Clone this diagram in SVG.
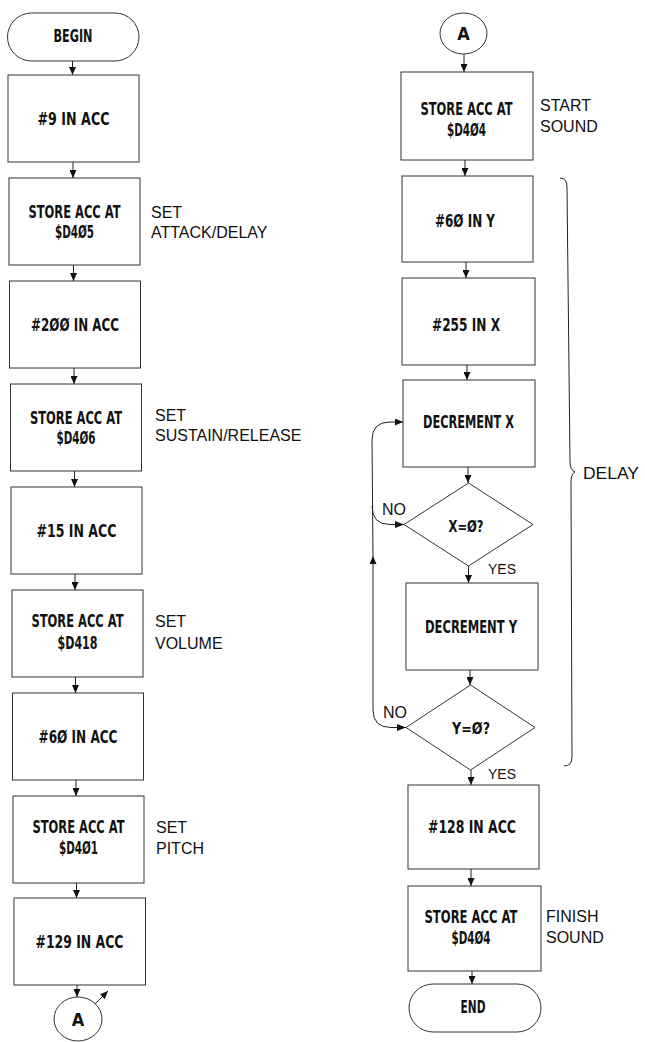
<svg xmlns="http://www.w3.org/2000/svg" width="645" height="1042" viewBox="0 0 645 1042">
<style>
.bg{fill:#fff}
.box{fill:#fff;stroke:#333;stroke-width:1}
.t{font-family:"Liberation Sans Narrow","DejaVu Sans Condensed","Liberation Sans",sans-serif;font-weight:bold;font-size:18px;text-anchor:middle;fill:#111}
.d{font-size:16px}
.l{font-family:"Liberation Sans",Arial,sans-serif;font-size:16px;fill:#111}
.s{font-size:14px}
.c{fill:none;stroke:#222;stroke-width:1}
.ce{fill:none;stroke:#222;stroke-width:1;marker-end:url(#ah)}
</style>
<defs>
<marker id="ah" markerUnits="userSpaceOnUse" markerWidth="8" markerHeight="7" viewBox="0 0 8 7" refX="8" refY="3.5" orient="auto"><path d="M0,0 L8,3.5 L0,7 z" fill="#111"/></marker>
<marker id="as" markerUnits="userSpaceOnUse" markerWidth="9" markerHeight="7" viewBox="0 0 9 7" refX="0" refY="3.5" orient="auto"><path d="M9,0 L0,3.5 L9,7 z" fill="#111"/></marker>
</defs>
<rect class="bg" x="0" y="0" width="645" height="1042"/>

<g id="connectors">
<path class="ce" d="M72.5,61 V75"/>
<path class="ce" d="M73,162 V178"/>
<path class="ce" d="M73.5,265 V281"/>
<path class="ce" d="M74,368 V384"/>
<path class="ce" d="M74.5,471 V487"/>
<path class="ce" d="M75,574 V590"/>
<path class="ce" d="M75.5,677 V693"/>
<path class="ce" d="M76,780 V796"/>
<path class="ce" d="M76.5,883 V898"/>
<path class="ce" d="M77,985 V997"/>
<path class="ce" d="M95,1004 L108,991"/>
<path class="ce" d="M464,54 V72"/>
<path class="ce" d="M465,160 V176"/>
<path class="ce" d="M466,262 V278"/>
<path class="ce" d="M467,365 V380"/>
<path class="ce" d="M468,467 V483"/>
<path class="ce" d="M468.5,566 V583"/>
<path class="ce" d="M470,670 V685"/>
<path class="ce" d="M471,770 V785"/>
<path class="ce" d="M471,869 V886"/>
<path class="ce" d="M472,971 V984"/>
<path class="ce" d="M406,727.5 L391,727.5 Q373,727.5 373,710 L373,556" style="marker-start:url(#as)"/>
<path class="ce" d="M373,556 L372,440 Q372,422 390,422 L403,422"/>
<path class="c" d="M404,524.5 L390,524.5 Q372,524.5 372,506" style="marker-start:url(#as)"/>
<text class="l" x="382" y="515">NO</text>
<text class="l" x="383" y="718">NO</text>
<text class="l s" x="488" y="574">YES</text>
<text class="l s" x="488" y="779">YES</text>
</g>

<g id="begin"><rect class="box" x="7.5" y="13" width="131.5" height="48" rx="24" ry="24"/><text class="t" x="73" y="42" textLength="39" lengthAdjust="spacingAndGlyphs">BEGIN</text></g>
<g id="n1"><rect class="box" x="8" y="75" width="131" height="87"/><text class="t" x="73.5" y="125" textLength="72" lengthAdjust="spacingAndGlyphs">#9 IN ACC</text></g>
<g id="n2"><rect class="box" x="9" y="178" width="131" height="87"/><text class="t" x="74.5" y="218" textLength="92" lengthAdjust="spacingAndGlyphs">STORE ACC AT</text><text class="t" x="74.5" y="238" textLength="39" lengthAdjust="spacingAndGlyphs">$D4Ø5</text><text class="l" x="151" y="217.5">SET</text><text class="l" x="151" y="238">ATTACK/DELAY</text></g>
<g id="n3"><rect class="box" x="9.5" y="281" width="131" height="87"/><text class="t" x="75" y="331" textLength="88" lengthAdjust="spacingAndGlyphs">#2ØØ IN ACC</text></g>
<g id="n4"><rect class="box" x="10.5" y="384" width="131" height="87"/><text class="t" x="76" y="424" textLength="92" lengthAdjust="spacingAndGlyphs">STORE ACC AT</text><text class="t" x="76" y="444" textLength="39" lengthAdjust="spacingAndGlyphs">$D4Ø6</text><text class="l" x="155" y="421">SET</text><text class="l" x="155" y="441">SUSTAIN/RELEASE</text></g>
<g id="n5"><rect class="box" x="11" y="487" width="131" height="87"/><text class="t" x="76.5" y="537" textLength="80" lengthAdjust="spacingAndGlyphs">#15 IN ACC</text></g>
<g id="n6"><rect class="box" x="12" y="590" width="131" height="87"/><text class="t" x="77.5" y="627" textLength="92" lengthAdjust="spacingAndGlyphs">STORE ACC AT</text><text class="t" x="77.5" y="649" textLength="40" lengthAdjust="spacingAndGlyphs">$D418</text><text class="l" x="155" y="627">SET</text><text class="l" x="155" y="649">VOLUME</text></g>
<g id="n7"><rect class="box" x="12.5" y="693" width="131" height="87"/><text class="t" x="78" y="743" textLength="79" lengthAdjust="spacingAndGlyphs">#6Ø IN ACC</text></g>
<g id="n8"><rect class="box" x="13" y="796" width="131" height="87"/><text class="t" x="78.5" y="833" textLength="92" lengthAdjust="spacingAndGlyphs">STORE ACC AT</text><text class="t" x="78.5" y="854" textLength="39" lengthAdjust="spacingAndGlyphs">$D4Ø1</text><text class="l" x="156" y="833">SET</text><text class="l" x="156" y="854">PITCH</text></g>
<g id="n9"><rect class="box" x="14" y="898" width="131.5" height="87"/><text class="t" x="79.5" y="948" textLength="88" lengthAdjust="spacingAndGlyphs">#129 IN ACC</text></g>
<g id="a1"><ellipse class="box" cx="78" cy="1019" rx="24" ry="22"/><text class="t" x="78" y="1026">A</text></g>

<g id="a2"><ellipse class="box" cx="463.5" cy="33.5" rx="23.5" ry="20.5"/><text class="t" x="463.5" y="40">A</text></g>
<g id="r1"><rect class="box" x="401" y="72" width="132" height="88"/><text class="t" x="466.5" y="115" textLength="92" lengthAdjust="spacingAndGlyphs">STORE ACC AT</text><text class="t" x="466.5" y="136" textLength="39" lengthAdjust="spacingAndGlyphs">$D4Ø4</text><text class="l" x="540" y="111">START</text><text class="l" x="540" y="132">SOUND</text></g>
<g id="r2"><rect class="box" x="402" y="176" width="131" height="86"/><text class="t" x="465" y="227" textLength="60" lengthAdjust="spacingAndGlyphs">#6Ø IN Y</text></g>
<g id="r3"><rect class="box" x="402" y="278" width="133" height="87"/><text class="t" x="466" y="330.5" textLength="68" lengthAdjust="spacingAndGlyphs">#255 IN X</text></g>
<g id="r4"><rect class="box" x="403" y="380" width="132" height="87"/><text class="t" x="468.5" y="427.5" textLength="91" lengthAdjust="spacingAndGlyphs">DECREMENT X</text></g>
<g id="d1"><polygon class="box" points="468.5,483 533,524.5 468.5,566 404,524.5"/><text class="t d" x="466" y="532" textLength="35" lengthAdjust="spacingAndGlyphs">X=Ø?</text></g>
<g id="r5"><rect class="box" x="406" y="583" width="132" height="87"/><text class="t" x="471" y="632.5" textLength="92" lengthAdjust="spacingAndGlyphs">DECREMENT Y</text></g>
<g id="d2"><polygon class="box" points="470.5,685 535,727.5 470.5,770 406,727.5"/><text class="t d" x="471" y="733.5" textLength="38" lengthAdjust="spacingAndGlyphs">Y=Ø?</text></g>
<g id="r6"><rect class="box" x="408" y="785" width="131" height="84"/><text class="t" x="472" y="833" textLength="88" lengthAdjust="spacingAndGlyphs">#128 IN ACC</text></g>
<g id="r7"><rect class="box" x="408" y="886" width="133" height="85"/><text class="t" x="471" y="922.5" textLength="93" lengthAdjust="spacingAndGlyphs">STORE ACC AT</text><text class="t" x="471" y="944" textLength="39" lengthAdjust="spacingAndGlyphs">$D4Ø4</text><text class="l" x="546" y="922">FINISH</text><text class="l" x="546" y="943">SOUND</text></g>
<g id="end"><rect class="box" x="409" y="984" width="132" height="48" rx="24" ry="24"/><text class="t" x="473" y="1013" textLength="25" lengthAdjust="spacingAndGlyphs">END</text></g>

<g id="brace"><path class="c" d="M560,178 Q567,178 567,187 L570,462 Q570,470 575,472 Q571,474 571,482 L572,757 Q572,766 564,766"/><text class="l" x="583" y="479" textLength="56" lengthAdjust="spacingAndGlyphs">DELAY</text></g>
</svg>
